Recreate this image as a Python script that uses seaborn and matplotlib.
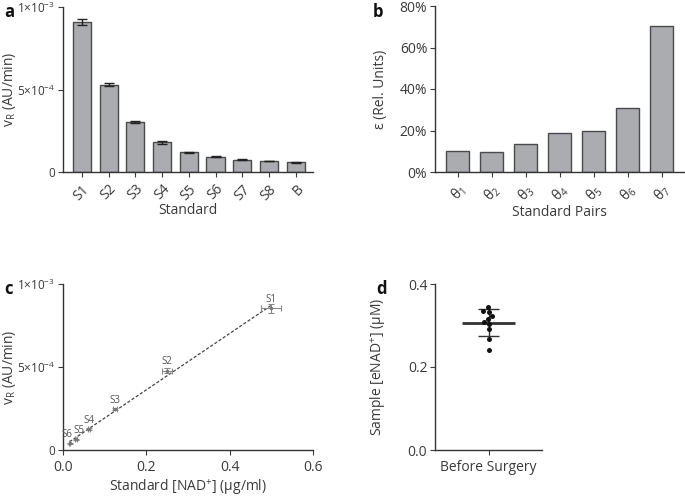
import numpy as np
import pandas as pd
import matplotlib
matplotlib.use('Agg')
import matplotlib.pyplot as plt
import seaborn as sns

# --- data ---
standards = ['S1', 'S2', 'S3', 'S4', 'S5', 'S6', 'S7', 'S8', 'B']
vr_mean = [0.91e-3, 0.53e-3, 0.305e-3, 0.18e-3, 0.12e-3, 0.093e-3, 0.075e-3, 0.067e-3, 0.059e-3]
vr_err = [0.02e-3, 0.01e-3, 0.007e-3, 0.008e-3, 0.003e-3, 0.002e-3, 0.002e-3, 0.002e-3, 0.002e-3]

pairs = [r'$\mathrm{\theta}_{%d}$' % i for i in range(1, 8)]
eps = [10.2, 9.8, 13.6, 18.9, 19.9, 31.0, 70.4]

cal_labels = ['S1', 'S2', 'S3', 'S4', 'S5', 'S6']
cal_conc = [0.5, 0.25, 0.125, 0.0625, 0.03125, 0.0156]
cal_vr = [0.855e-3, 0.478e-3, 0.247e-3, 0.125e-3, 0.064e-3, 0.040e-3]
cal_xerr = [0.024, 0.012, 0.005, 0.003, 0.002, 0.001]
cal_yerr = [0.027e-3, 0.015e-3, 0.008e-3, 0.005e-3, 0.003e-3, 0.002e-3]

samples = [0.345, 0.335, 0.333, 0.324, 0.316, 0.308, 0.304, 0.291, 0.267, 0.242]

# --- style ---
sns.set_style('ticks')
txt = '#3a3a3a'
plt.rcParams['font.family'] = ['Open Sans', 'DejaVu Sans']
plt.rcParams['mathtext.fontset'] = 'custom'
plt.rcParams['mathtext.rm'] = 'Open Sans'
plt.rcParams['mathtext.it'] = 'Open Sans:italic'
plt.rcParams['font.size'] = 10
plt.rcParams['text.color'] = txt
plt.rcParams['axes.labelcolor'] = txt
plt.rcParams['xtick.color'] = txt
plt.rcParams['ytick.color'] = txt
plt.rcParams['axes.edgecolor'] = '#333333'
plt.rcParams['axes.linewidth'] = 1.0
plt.rcParams['xtick.major.size'] = 3.5
plt.rcParams['ytick.major.size'] = 3.5
plt.rcParams['ytick.major.pad'] = 2

W, H = 685, 497
fig = plt.figure(figsize=(6.85, 4.97), dpi=100)

def box(l, t, r, b):
    return [l / W, 1 - b / H, (r - l) / W, (b - t) / H]

ax_a = fig.add_axes(box(63, 7, 313, 172))
ax_b = fig.add_axes(box(435, 6, 684, 172))
ax_c = fig.add_axes(box(63, 284, 313, 450))
ax_d = fig.add_axes(box(435, 284, 542, 450))

bar_fc = '#abacb0'
bar_ec = '#4a4a4a'
vr_ticks = [0, 5e-4, 1e-3]
vr_ticklabels = ['0', r'$5{\times}10^{-4}$', r'$1{\times}10^{-3}$']

# a) bars with error bars
sns.barplot(x=standards, y=vr_mean, color=bar_fc, edgecolor=bar_ec, linewidth=1,
            width=0.68, errorbar=None, saturation=1, ax=ax_a)
ax_a.errorbar(np.arange(len(standards)), vr_mean, yerr=vr_err, fmt='none',
              ecolor='#222222', elinewidth=1, capsize=3.5, capthick=1)
ax_a.set_xlim(-0.71, 8.65)
ax_a.set_ylim(0, 1e-3)
ax_a.set_yticks(vr_ticks)
ax_a.set_yticklabels(vr_ticklabels, fontsize=8.5)
ax_a.tick_params(axis='x', rotation=45)
for lab in ax_a.get_xticklabels():
    lab.set_ha('right')
    lab.set_rotation_mode('anchor')
ax_a.set_xlabel('Standard', labelpad=0)
ax_a.set_ylabel(r'v$_\mathrm{R}$ (AU/min)')
ax_a.yaxis.set_label_coords(-0.18, 0.5)

# b) pair errors
sns.barplot(x=pairs, y=eps, color=bar_fc, edgecolor=bar_ec, linewidth=1,
            width=0.68, errorbar=None, saturation=1, ax=ax_b)
ax_b.set_xlim(-0.67, 6.65)
ax_b.set_ylim(0, 80)
ax_b.set_yticks([0, 20, 40, 60, 80])
ax_b.set_yticklabels(['0%', '20%', '40%', '60%', '80%'])
ax_b.tick_params(axis='x', rotation=45)
for lab in ax_b.get_xticklabels():
    lab.set_ha('right')
    lab.set_rotation_mode('anchor')
ax_b.set_xlabel('Standard Pairs', labelpad=0)
ax_b.set_ylabel('ε (Rel. Units)')
ax_b.yaxis.set_label_coords(-0.19, 0.5)

# c) calibration
cal = pd.DataFrame({'conc': cal_conc, 'vr': cal_vr})
sns.regplot(data=cal, x='conc', y='vr', scatter=False, ci=None, truncate=True,
            line_kws={'color': '#444444', 'lw': 0.9, 'ls': (0, (2.5, 1.5))}, ax=ax_c)
ax_c.errorbar(cal_conc, cal_vr, xerr=cal_xerr, yerr=cal_yerr, fmt='o', ms=1.5,
              color='#777777', ecolor='#8a8a8a', elinewidth=0.8, capsize=2, capthick=0.8)
nudge = {'S5': 2, 'S6': -2}
for lab, xv, yv in zip(cal_labels, cal_conc, cal_vr):
    ax_c.annotate(lab, (xv, yv), xytext=(nudge.get(lab, 0), 2.5), textcoords='offset points',
                  ha='center', va='bottom', fontsize=7, color='#555555')
ax_c.set_xlim(0, 0.6)
ax_c.set_ylim(0, 1e-3)
ax_c.set_xticks([0.0, 0.2, 0.4, 0.6])
ax_c.set_xticklabels(['0.0', '0.2', '0.4', '0.6'])
ax_c.set_yticks(vr_ticks)
ax_c.set_yticklabels(vr_ticklabels, fontsize=8.5)
ax_c.set_xlabel(r'Standard [NAD$^{+}$] (μg/ml)', labelpad=2)
ax_c.set_ylabel(r'v$_\mathrm{R}$ (AU/min)')
ax_c.yaxis.set_label_coords(-0.18, 0.5)

# d) samples
samp = pd.DataFrame({'group': ['Before Surgery'] * len(samples), 'val': samples})
sns.swarmplot(data=samp, x='group', y='val', color='#111111', size=3.6, ax=ax_d)
m = np.mean(samples)
sd = np.std(samples, ddof=1)
ax_d.hlines(m, -0.25, 0.25, color='#333333', lw=2)
ax_d.vlines(0, m - sd, m + sd, color='#333333', lw=1)
ax_d.hlines([m - sd, m + sd], -0.1, 0.1, color='#333333', lw=1)
ax_d.set_xlim(-0.5, 0.5)
ax_d.set_ylim(0, 0.4)
ax_d.set_yticks([0.0, 0.2, 0.4])
ax_d.set_yticklabels(['0.0', '0.2', '0.4'])
ax_d.set_xlabel('')
ax_d.set_ylabel(r'Sample [eNAD$^{+}$] (μM)')
ax_d.yaxis.set_label_coords(-0.44, 0.5)

for ax in (ax_a, ax_b, ax_c, ax_d):
    sns.despine(ax=ax)

for letter, x, y in [('a', 4, 12), ('b', 373, 12), ('c', 4, 289), ('d', 376, 289)]:
    fig.text(x / W, 1 - y / H, letter, fontsize=12, fontweight='bold', color='#111111',
             va='center', ha='left')

fig.savefig('out.png', dpi=100)
